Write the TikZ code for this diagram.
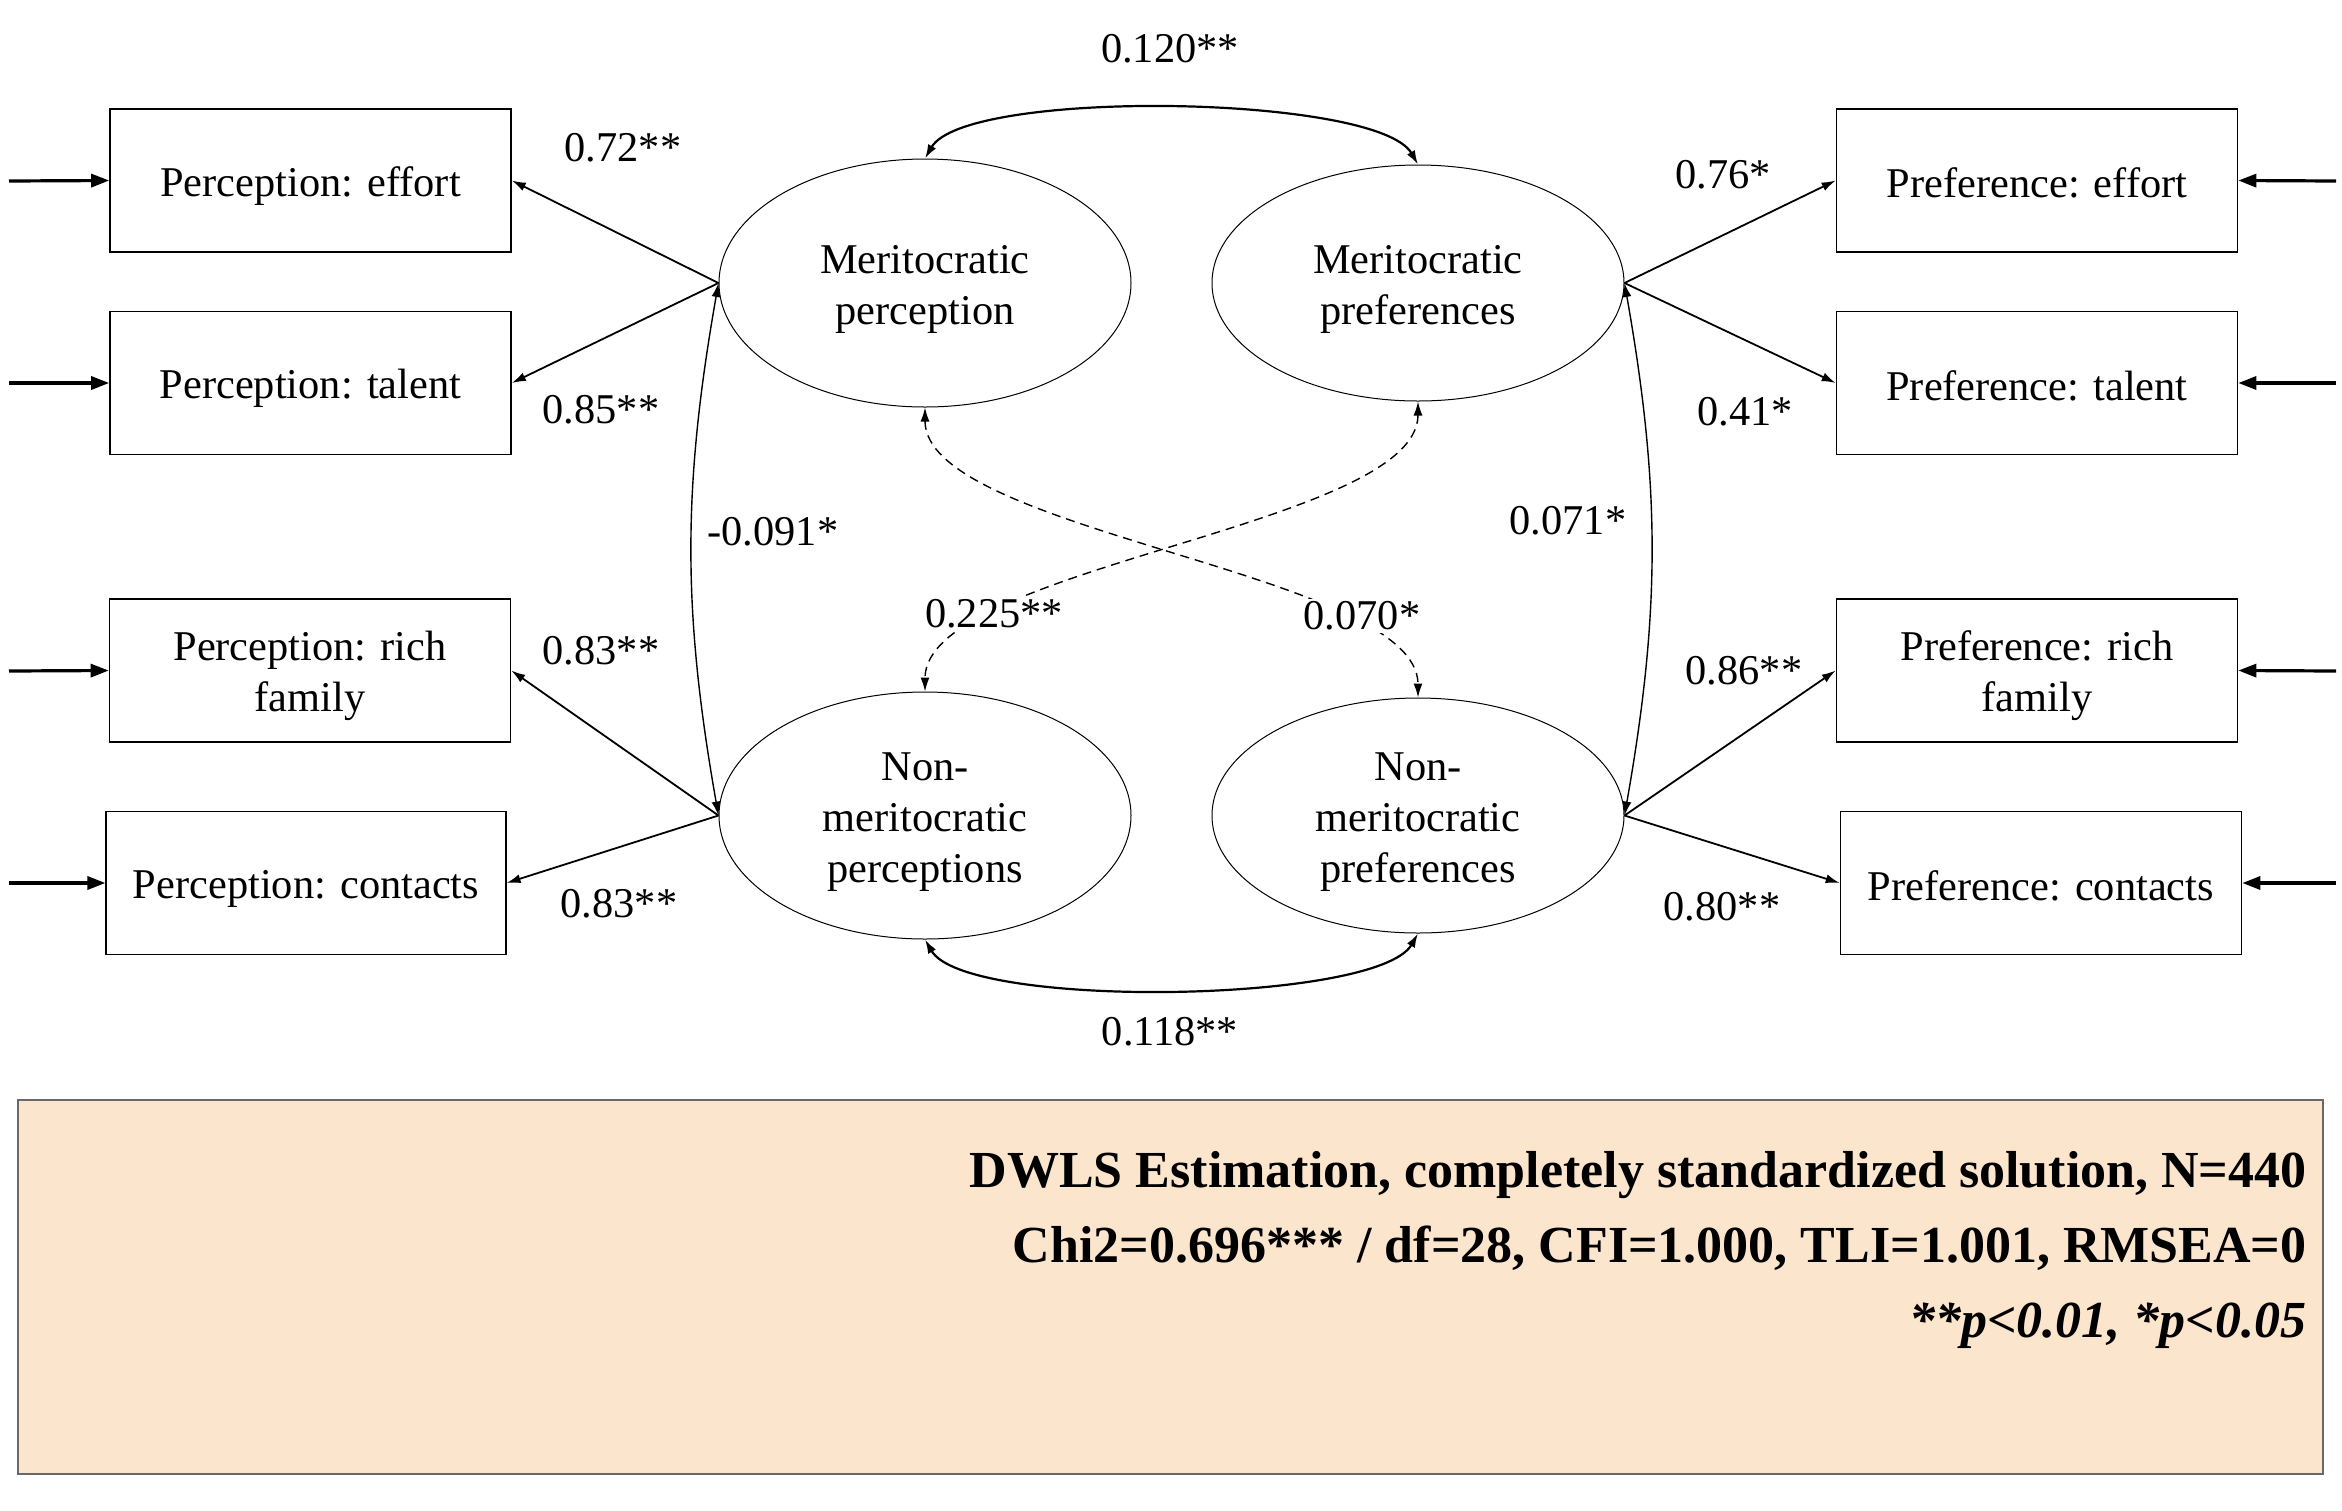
\documentclass[tikz,border=0pt]{standalone}
\usepackage{fontspec}
\setmainfont{Liberation Serif}
\usetikzlibrary{shapes.geometric,arrows.meta}
\newcommand{\sx}{\rule[-0.146em]{0pt}{1.106em}}
\definecolor{peach}{RGB}{252,229,205}
\definecolor{fborder}{RGB}{105,105,105}
\begin{document}
\begin{tikzpicture}[x=0.5pt,y=0.5pt,
  every node/.style={font=\fontsize{21.2}{25.5}\selectfont},
  obsbox/.style={draw, line width=0.8pt, minimum width=200.5pt, minimum height=71.5pt, inner sep=0pt, align=center},
  latent/.style={draw, ellipse, line width=0.5pt, inner sep=0pt, minimum width=206pt, align=center},
  lab/.style={inner sep=1.5pt},
  load/.style={-{Latex[length=7pt,width=4.5pt]}, line width=0.9pt},
  cov/.style={{Latex[length=7pt,width=4.5pt]}-{Latex[length=7pt,width=4.5pt]}, line width=0.7pt},
  dcov/.style={cov, dash pattern=on 4.5pt off 3pt},
  err/.style={-{Triangle[length=9pt,width=6.5pt]}, line width=1.6pt},
  footbox/.style={draw=fborder, fill=peach, line width=0.7pt, minimum width=1152.5pt, minimum height=187pt, inner sep=0pt},
  foottext/.style={font=\fontsize{26}{31}\selectfont\bfseries, anchor=base east, inner sep=0pt},
]
\useasboundingbox (0,0) rectangle (2342,-1511);

% observed indicators, left
\node[obsbox] (pe1) at (310.5,-180.5) {\sx Perception: effort};
\node[obsbox] (pt1) at (310.5,-383) {\sx Perception: talent};
\node[obsbox] (pr1) at (310,-670.5) {\sx Perception: rich\\\sx family};
\node[obsbox, minimum width=199.75pt] (pc1) at (306,-883) {\sx Perception: contacts};
% observed indicators, right
\node[obsbox] (qe1) at (2037,-180.5) {\sx Preference: effort};
\node[obsbox] (qt1) at (2037,-383) {\sx Preference: talent};
\node[obsbox] (qr1) at (2037,-670.5) {\sx Preference: rich\\\sx family};
\node[obsbox] (qc1) at (2041,-883) {\sx Preference: contacts};

% latent variables
\node[latent, minimum height=124pt] (mp) at (925,-283) {\sx Meritocratic\\\sx perception};
\node[latent, minimum height=118pt] (mq) at (1418,-283) {\sx Meritocratic\\\sx preferences};
\node[latent, minimum height=123.5pt] (np) at (925,-815.5) {\sx Non-\\\sx meritocratic\\\sx perceptions};
\node[latent, minimum height=117.5pt] (nq) at (1418,-815.5) {\sx Non-\\\sx meritocratic\\\sx preferences};

% loadings
\draw[load] (mp.west) -- (pe1.east);
\draw[load] (mp.west) -- (pt1.east);
\draw[load] (np.west) -- (pr1.east);
\draw[load] (np.west) -- (pc1.east);
\draw[load] (mq.east) -- (qe1.west);
\draw[load] (mq.east) -- (qt1.west);
\draw[load] (nq.east) -- (qr1.west);
\draw[load] (nq.east) -- (qc1.west);

% covariances
\draw[cov] (mp.west) to[bend right=10] (np.west);
\draw[cov] (mq.east) to[bend left=10] (nq.east);
\draw[cov, line width=1.1pt] (mp.north) to[out=60,in=120,looseness=0.42] (mq.north);
\draw[cov, line width=1.1pt] (np.south) to[out=-60,in=-120,looseness=0.42] (nq.south);
\draw[dcov] (mp.south) to[out=-90,in=90,looseness=0.56] (nq.north);
\draw[dcov] (mq.south) to[out=-90,in=90,looseness=0.56] (np.north);

% error terms
\coordinate (ea1) at (9,-181);
\coordinate (ea2) at (9,-383);
\coordinate (ea3) at (9,-671);
\coordinate (ea4) at (9,-883);
\coordinate (eb1) at (2336,-181);
\coordinate (eb2) at (2336,-383);
\coordinate (eb3) at (2336,-671);
\coordinate (eb4) at (2336,-883);
\draw[err] (ea1) -- (pe1.west);
\draw[err] (ea2) -- (pt1.west);
\draw[err] (ea3) -- (pr1.west);
\draw[err] (ea4) -- (pc1.west);
\draw[err] (eb1) -- (qe1.east);
\draw[err] (eb2) -- (qt1.east);
\draw[err] (eb3) -- (qr1.east);
\draw[err] (eb4) -- (qc1.east);

% coefficient labels
\node[lab] (c120) at (1170,-49) {0.120**};
\node[lab] (c072) at (623,-148) {0.72**};
\node[lab] (c085) at (601,-410) {0.85**};
\node[lab] (c083a) at (601,-651) {0.83**};
\node[lab] (c083b) at (619,-904) {0.83**};
\node[lab] (c076) at (1723,-175) {0.76*};
\node[lab] (c041) at (1745,-412) {0.41*};
\node[lab] (c086) at (1744,-671) {0.86**};
\node[lab] (c080) at (1722,-907) {0.80**};
\node[lab] (c091) at (773,-532) {-0.091*};
\node[lab] (c071) at (1568,-521) {0.071*};
\node[lab, fill=white] (c225) at (994,-614) {0.225**};
\node[lab, fill=white] (c070) at (1362,-616) {0.070*};
\node[lab] (c118) at (1170,-1032) {0.118**};

% footer
\node[footbox] (foot) at (1170.5,-1287) {};
\node[foottext] (f1) at (2307,-1187) {DWLS Estimation, completely standardized solution, N=440};
\node[foottext] (f2) at (2307,-1262) {Chi2=0.696*** / df=28, CFI=1.000, TLI=1.001, RMSEA=0};
\node[foottext, font=\fontsize{26}{31}\selectfont\bfseries\itshape] (f3) at (2307,-1337) {**p<0.01, *p<0.05};
\end{tikzpicture}
\end{document}
